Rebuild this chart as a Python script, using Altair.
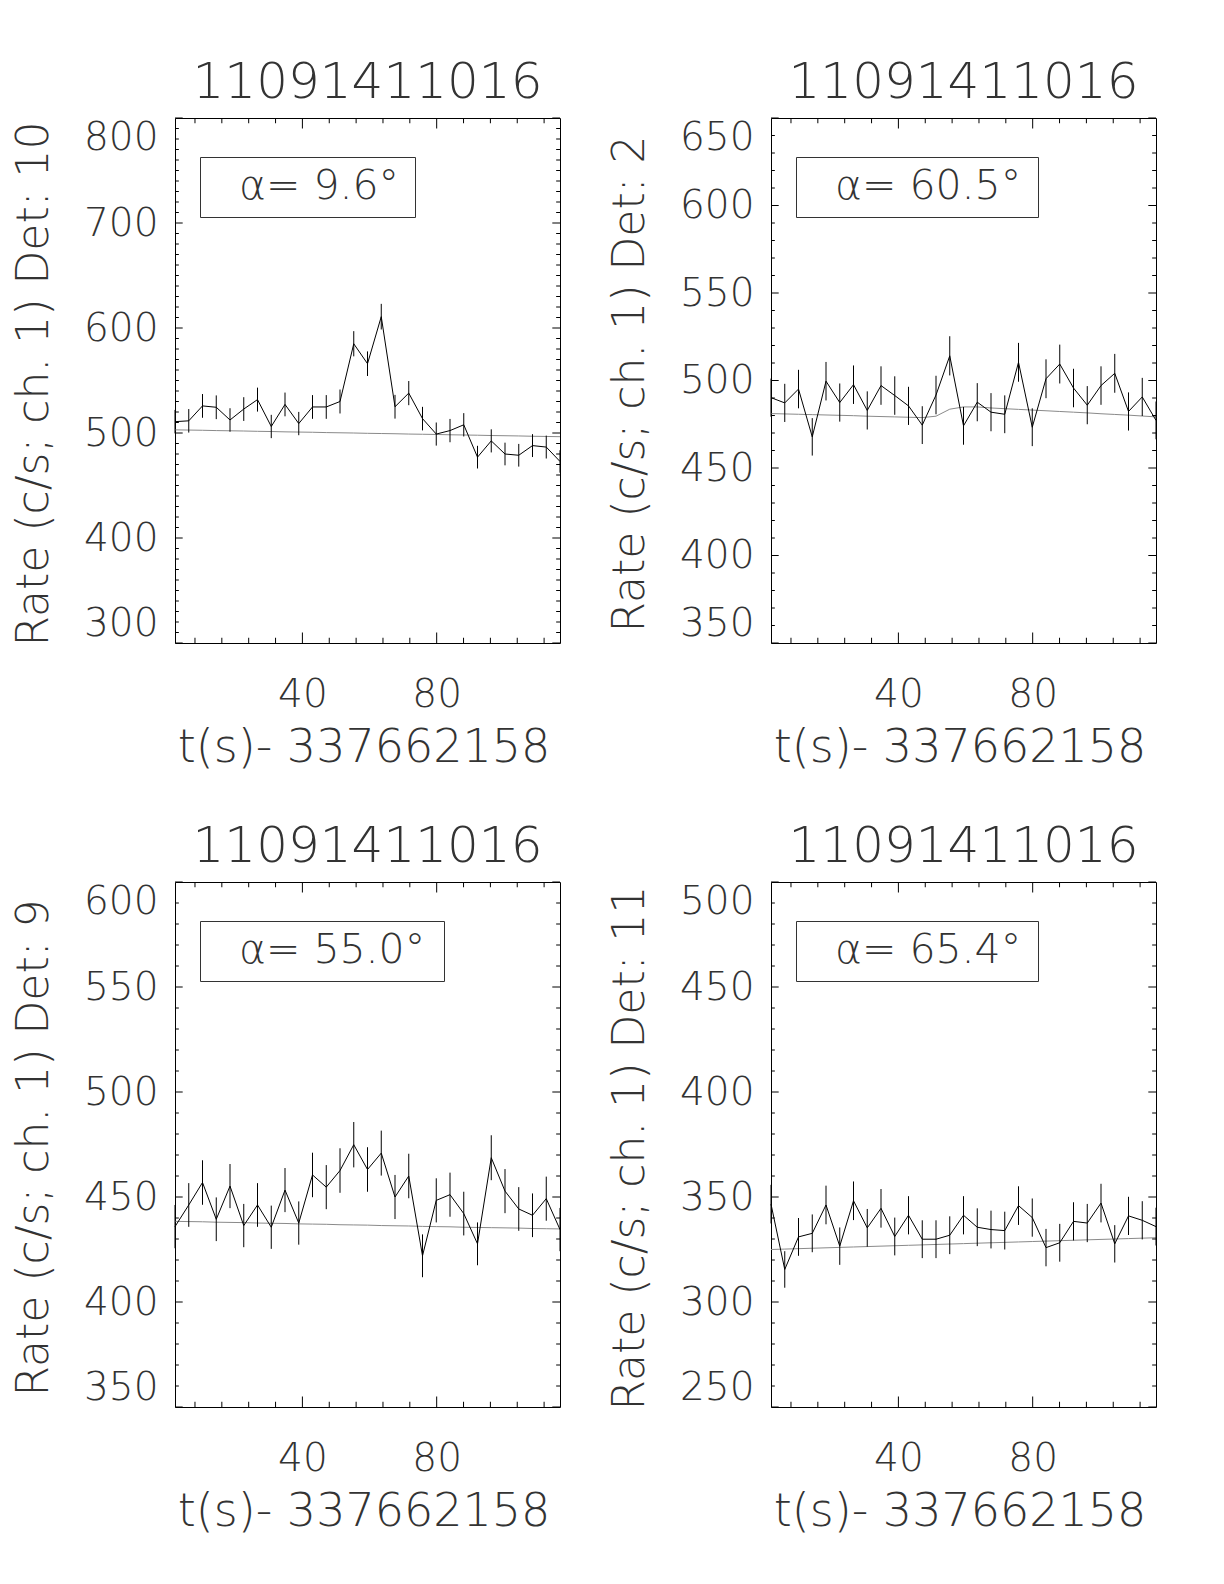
import altair as alt
import pandas as pd

# time bins (s) relative to 337662158
t = [2.048, 6.144, 10.240, 14.336, 18.432, 22.528, 26.624, 30.720, 34.816, 38.912,
     43.008, 47.104, 51.200, 55.296, 59.392, 63.488, 67.584, 71.680, 75.776, 79.872,
     83.968, 88.064, 92.160, 96.256, 100.352, 104.448, 108.544, 112.640, 116.736]

# Det 10
rate_d10 = [510.8, 511.6, 525.8, 524.5, 512.4, 522.8, 531.8, 506.2, 527.2, 509.0,
            524.8, 524.8, 530.0, 585.0, 566.0, 610.8, 525.0, 538.0, 513.7, 499.0,
            502.3, 507.8, 477.0, 492.5, 480.0, 478.8, 488.0, 486.6, 472.9]
err_d10 = [11.2, 11.2, 11.3, 11.3, 11.2, 11.3, 11.4, 11.1, 11.3, 11.1,
           11.3, 11.3, 11.4, 12.0, 11.7, 12.2, 11.3, 11.5, 11.2, 11.0,
           11.1, 11.1, 10.8, 11.0, 10.8, 10.8, 10.9, 10.9, 10.7]
bg_d10 = [503.0, 502.8, 502.6, 502.3, 502.1, 501.9, 501.6, 501.4, 501.1, 500.9,
          500.7, 500.4, 500.2, 500.0, 499.7, 499.5, 499.3, 499.0, 498.8, 498.6,
          498.3, 498.1, 497.9, 497.6, 497.4, 497.2, 496.9, 496.7, 496.5]

# Det 2
rate_d2 = [490.2, 487.2, 495.1, 467.8, 499.6, 487.4, 497.6, 482.9, 497.1, 491.4,
           485.5, 474.5, 491.7, 514.1, 474.1, 487.6, 481.9, 480.7, 510.4, 473.3,
           501.0, 509.4, 495.7, 485.9, 497.1, 504.1, 482.3, 490.6, 477.2]
err_d2 = [10.9, 10.9, 11.0, 10.7, 11.0, 10.9, 11.0, 10.9, 11.0, 11.0,
          10.9, 10.8, 11.0, 11.2, 10.8, 10.9, 10.9, 10.8, 11.1, 10.8,
          11.1, 11.1, 11.0, 10.9, 11.0, 11.1, 10.9, 10.9, 10.8]
bg_d2 = [481.1, 480.9, 480.7, 480.5, 480.3, 480.1, 479.9, 479.6, 479.4, 479.2,
         479.0, 478.8, 479.6, 483.6, 484.9, 484.9, 484.3, 483.9, 483.5, 483.1,
         482.7, 482.3, 481.9, 481.5, 481.0, 480.6, 480.2, 479.7, 479.2]

# Det 9
rate_d9 = [435.9, 446.2, 456.9, 439.4, 455.2, 436.4, 446.2, 435.6, 453.3, 437.6,
           460.5, 454.7, 462.6, 474.9, 463.1, 470.9, 450.0, 460.0, 422.0, 448.4,
           451.1, 442.1, 427.7, 468.7, 452.8, 444.3, 441.3, 449.2, 434.5]
err_d9 = [10.3, 10.4, 10.6, 10.4, 10.5, 10.3, 10.4, 10.3, 10.5, 10.3,
          10.6, 10.5, 10.6, 10.8, 10.6, 10.7, 10.5, 10.6, 10.2, 10.5,
          10.5, 10.4, 10.2, 10.7, 10.5, 10.4, 10.4, 10.5, 10.3]
bg_d9 = [438.4, 438.3, 438.2, 438.0, 437.9, 437.8, 437.6, 437.5, 437.4, 437.2,
         437.1, 437.0, 436.8, 436.7, 436.6, 436.4, 436.3, 436.2, 436.0, 435.9,
         435.8, 435.6, 435.5, 435.4, 435.3, 435.2, 435.0, 434.9, 434.8]

# Det 11
rate_d11 = [346.6, 315.5, 331.0, 332.7, 346.2, 326.6, 348.2, 335.3, 344.6, 331.2,
            341.3, 329.9, 329.9, 331.8, 341.3, 335.6, 334.5, 334.0, 345.9, 340.2,
            325.9, 328.2, 338.4, 337.6, 347.1, 327.7, 341.0, 338.9, 335.9]
err_d11 = [9.2, 8.7, 9.0, 9.0, 9.2, 8.9, 9.2, 9.0, 9.2, 9.0,
           9.1, 9.0, 9.0, 9.0, 9.1, 9.0, 9.0, 9.0, 9.2, 9.1,
           8.9, 9.0, 9.1, 9.1, 9.2, 8.9, 9.1, 9.1, 9.0]
bg_d11 = [325.0, 325.2, 325.4, 325.6, 325.8, 326.0, 326.2, 326.4, 326.6, 326.8,
          327.0, 327.2, 327.4, 327.6, 327.8, 328.0, 328.2, 328.4, 328.6, 328.8,
          329.0, 329.2, 329.4, 329.6, 329.8, 330.0, 330.2, 330.4, 330.6]

title_text = "11091411016"
x_title = "t(s)- 337662158"
x_major = [40, 80]
x_minor = [8, 16, 24, 32, 48, 56, 64, 72, 88, 96, 104, 112]

FONT = "DejaVu Sans"
FW = 200
TXT = "#333333"
W, H = 385, 525
XT_MAJ, XT_MIN = 10.5, 5.25
YT_MAJ, YT_MIN = 7.7, 3.85


def panel(det, alpha, rate, err, bg, ymin, ymax, ystep, box_w):
    df = pd.DataFrame({"t": t, "rate": rate, "err": err, "bg": bg})
    y_major = list(range(ymin, ymax + 1, ystep))
    y_minor = [v for v in range(ymin, ymax + 1, 10) if v not in y_major]
    xs = alt.Scale(domain=[t[0], t[-1]], nice=False, zero=False)
    ys = alt.Scale(domain=[ymin, ymax], nice=False, zero=False)
    xaxis = alt.Axis(values=x_major, format="d", ticks=False, tickSize=0, domain=False,
                     grid=False, labelPadding=63, labelBaseline="alphabetic",
                     labelFontSize=39, labelFont=FONT, labelFontWeight=FW, labelColor=TXT,
                     title=x_title, titleFont=FONT, titleFontWeight=FW, titleFontSize=46,
                     titleColor=TXT, titleBaseline="alphabetic", titleY=118,
                     titleX=W / 2 - 4, titleAnchor="middle", titleAlign="center")
    yaxis = alt.Axis(values=y_major, format="d", ticks=False, tickSize=0, domain=False,
                     grid=False, labelFlush=True, labelPadding=17,
                     labelFontSize=39, labelFont=FONT, labelFontWeight=FW, labelColor=TXT,
                     title=f"Rate (c/s; ch. 1) Det: {det}", titleFont=FONT,
                     titleFontWeight=FW, titleFontSize=44, titleColor=TXT,
                     titleAngle=270, titleX=-141, titleY=H / 2 + 3,
                     titleBaseline="middle", titleAlign="center")

    def X(f):
        return alt.X(f, type="quantitative", scale=xs, axis=xaxis)

    def Y(f):
        return alt.Y(f, type="quantitative", scale=ys, axis=yaxis)

    base = alt.Chart(df)
    errbars = base.transform_calculate(
        lo="datum.rate - datum.err", hi="datum.rate + datum.err"
    ).mark_rule(color="black", strokeWidth=1).encode(x=X("t"), y=Y("lo"), y2="hi:Q")
    line = base.mark_line(color="black", strokeWidth=1).encode(x=X("t"), y=Y("rate"))
    bgline = base.mark_line(color="#8a8a8a", strokeWidth=1).encode(x=X("t"), y=Y("bg"))

    ymaj = alt.Chart(pd.DataFrame({"v": y_major}))
    ymin_df = alt.Chart(pd.DataFrame({"v": y_minor}))
    xmaj = alt.Chart(pd.DataFrame({"v": x_major}))
    xmin_df = alt.Chart(pd.DataFrame({"v": x_minor}))
    tk = dict(color="black", strokeWidth=1)
    ticks = [
        ymaj.mark_rule(**tk).encode(y=Y("v"), x=alt.value(0), x2=alt.value(YT_MAJ)),
        ymaj.mark_rule(**tk).encode(y=Y("v"), x=alt.value(W), x2=alt.value(W - YT_MAJ)),
        ymin_df.mark_rule(**tk).encode(y=Y("v"), x=alt.value(0), x2=alt.value(YT_MIN)),
        ymin_df.mark_rule(**tk).encode(y=Y("v"), x=alt.value(W), x2=alt.value(W - YT_MIN)),
        xmaj.mark_rule(**tk).encode(x=X("v"), y=alt.value(H), y2=alt.value(H - XT_MAJ)),
        xmaj.mark_rule(**tk).encode(x=X("v"), y=alt.value(0), y2=alt.value(XT_MAJ)),
        xmin_df.mark_rule(**tk).encode(x=X("v"), y=alt.value(H), y2=alt.value(H - XT_MIN)),
        xmin_df.mark_rule(**tk).encode(x=X("v"), y=alt.value(0), y2=alt.value(XT_MIN)),
    ]

    lab = alt.Chart(pd.DataFrame({"label": [alpha], "title": [title_text]}))
    box = lab.mark_rect(fillOpacity=0, stroke="#333333", strokeWidth=1).encode(
        x=alt.value(25.5), x2=alt.value(25.5 + box_w), y=alt.value(39.5),
        y2=alt.value(99.5))
    txt = lab.mark_text(align="left", baseline="alphabetic", font=FONT, fontWeight=FW,
                        fontSize=41, color=TXT).encode(
        x=alt.value(64), y=alt.value(81), text="label:N")
    ttl = lab.mark_text(align="center", baseline="alphabetic", font=FONT, fontWeight=FW,
                        fontSize=50, color=TXT).encode(
        x=alt.value(W / 2), y=alt.value(-20), text="title:N")

    return alt.layer(bgline, errbars, line, *ticks, box, txt, ttl).properties(
        width=W, height=H)


p1 = panel(10, "α= 9.6°", rate_d10, err_d10, bg_d10, 300, 800, 100, 215)
p2 = panel(2, "α= 60.5°", rate_d2, err_d2, bg_d2, 350, 650, 50, 242)
p3 = panel(9, "α= 55.0°", rate_d9, err_d9, bg_d9, 350, 600, 50, 244)
p4 = panel(11, "α= 65.4°", rate_d11, err_d11, bg_d11, 250, 500, 50, 242)

chart = alt.concat(p1, p2, p3, p4, columns=2,
                   spacing={"row": 239, "column": 211}, bounds="flush").properties(
    padding={"left": 3, "top": 49, "right": 5, "bottom": 5}
).configure_view(stroke="black", strokeWidth=1)

chart.save("out.html", embed_options={"renderer": "svg", "actions": False})
